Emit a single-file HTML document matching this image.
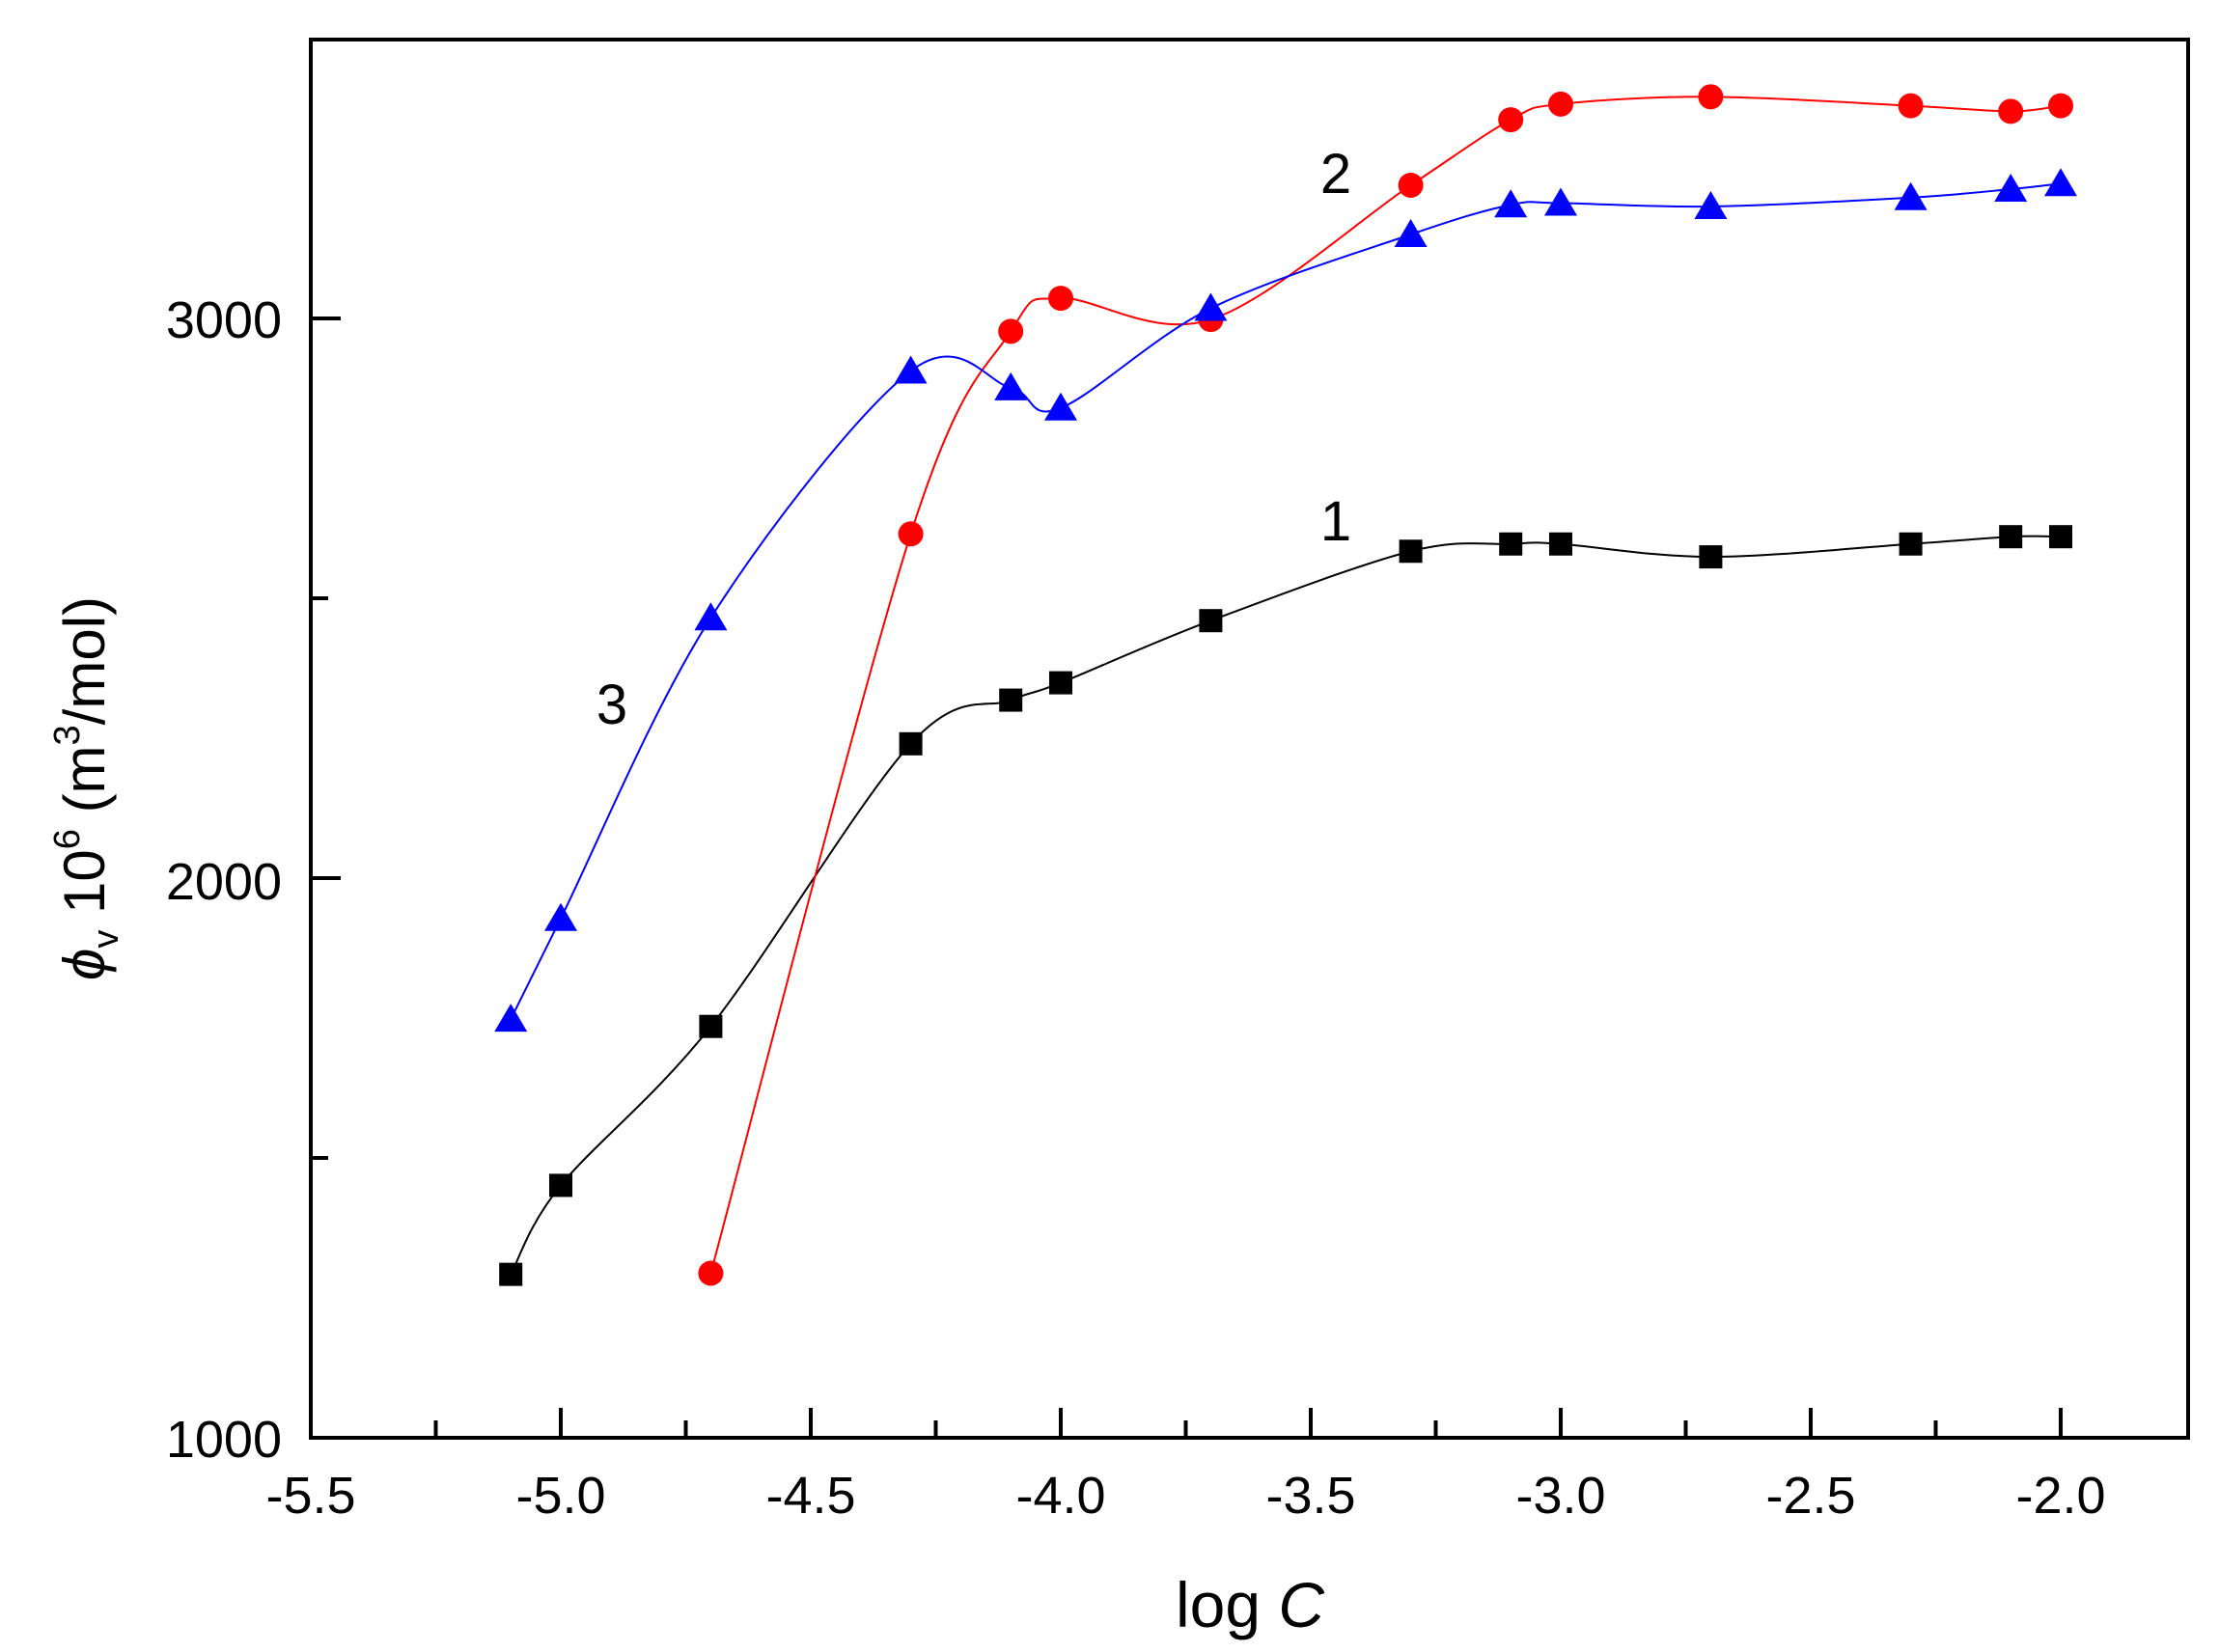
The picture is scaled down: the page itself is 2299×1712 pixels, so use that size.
<!DOCTYPE html>
<html><head><meta charset="utf-8"><style>
html,body{margin:0;padding:0;background:#fff}
svg{display:block}
text{font-family:"Liberation Sans",Arial,sans-serif;fill:#000}
</style></head><body>
<svg id="s" width="2299" height="1712" viewBox="0 0 2299 1712" xmlns="http://www.w3.org/2000/svg">
<rect width="2299" height="1712" fill="#fff"/>
<g id="ax"></g>
<g id="curves"></g>
<g id="marks"></g>
<rect x="322" y="41" width="1945" height="1449" fill="none" stroke="#000" stroke-width="4"/>
<g font-size="54" text-anchor="end">
<text x="292" y="1510">1000</text>
<text x="292" y="932">2000</text>
<text x="292" y="350">3000</text>
</g>
<g font-size="54" text-anchor="middle" id="xl"></g>
<text x="1295" y="1686" font-size="66" text-anchor="middle">log <tspan font-style="italic">C</tspan></text>
<text transform="translate(108,817) rotate(-90)" font-size="60" text-anchor="middle"><tspan font-style="italic">ϕ</tspan><tspan font-size="38" dy="14">v</tspan><tspan dy="-14"> 10</tspan><tspan font-size="38" dy="-26">6</tspan><tspan dy="26"> (m</tspan><tspan font-size="38" dy="-26">3</tspan><tspan dy="26">/mol)</tspan></text>
<g font-size="58" text-anchor="middle">
<text x="1384" y="560">1</text>
<text x="1384" y="200">2</text>
<text x="634" y="750">3</text>
</g>
</svg>
<script>
var NS="http://www.w3.org/2000/svg";
function X(v){return 322+(v+5.5)*518;}
function Y(v){return 1490-(v-1000)*0.58;}
function el(p,t,a){var e=document.createElementNS(NS,t);for(var k in a)e.setAttribute(k,a[k]);p.appendChild(e);return e;}
var ax=document.getElementById('ax'),xl=document.getElementById('xl');
for(var i=0;i<=14;i++){var v=-5.5+i*0.25;var x=X(v);var L=(i%2==0)?31:18;
el(ax,'line',{x1:x,y1:1490,x2:x,y2:1490-L,stroke:'#000','stroke-width':4});
if(i%2==0){var t=el(xl,'text',{x:x,y:1568});t.textContent=v.toFixed(1);}}
[1000,1500,2000,2500,3000].forEach(function(v,i){var y=Y(v);var L=(v%1000==0)?31:18;
el(ax,'line',{x1:322,y1:y,x2:322+L,y2:y,stroke:'#000','stroke-width':4});});
var xs=[-5.1,-5.0,-4.7,-4.3,-4.1,-4.0,-3.7,-3.3,-3.1,-3.0,-2.7,-2.3,-2.1,-2.0];
var s1=[1292,1451,1735,2240,2318,2349,2460,2584,2597,2597,2574,2597,2610,2610];
var x2=xs.slice(2);
var s2=[1294,2615,2977,3036,2998,3238,3355,3383,3396,3380,3370,3380];
var s3=[1748,1928,2465,2906,2876,2840,3018,3150,3203,3206,3200,3216,3231,3241];
function path(xv,yv){var p=xv.map(function(x,i){return [X(x),Y(yv[i])];});
var d="M"+p[0][0]+","+p[0][1];
for(var i=0;i<p.length-1;i++){var p0=p[Math.max(0,i-1)],p1=p[i],p2=p[i+1],p3=p[Math.min(p.length-1,i+2)];
var c1=[p1[0]+(p2[0]-p0[0])/6,p1[1]+(p2[1]-p0[1])/6],c2=[p2[0]-(p3[0]-p1[0])/6,p2[1]-(p3[1]-p1[1])/6];
d+=" C"+c1+" "+c2+" "+p2;}return d;}
var cv=document.getElementById('curves'),mk=document.getElementById('marks');
el(cv,'path',{d:path(xs,s1),fill:'none',stroke:'#000','stroke-width':2});
el(cv,'path',{d:path(x2,s2),fill:'none',stroke:'#ff0000','stroke-width':2});
el(cv,'path',{d:path(xs,s3),fill:'none',stroke:'#0000ff','stroke-width':2});
xs.forEach(function(x,i){var cx=X(x),cy=Y(s1[i]);el(mk,'rect',{x:cx-12,y:cy-12,width:24,height:24,fill:'#000'});});
x2.forEach(function(x,i){el(mk,'circle',{cx:X(x),cy:Y(s2[i]),r:13,fill:'#ff0000'});});
xs.forEach(function(x,i){var cx=X(x),cy=Y(s3[i]);el(mk,'polygon',{points:(cx)+","+(cy-16)+" "+(cx+17)+","+(cy+13)+" "+(cx-17)+","+(cy+13),fill:'#0000ff'});});
</script>
</body></html>
